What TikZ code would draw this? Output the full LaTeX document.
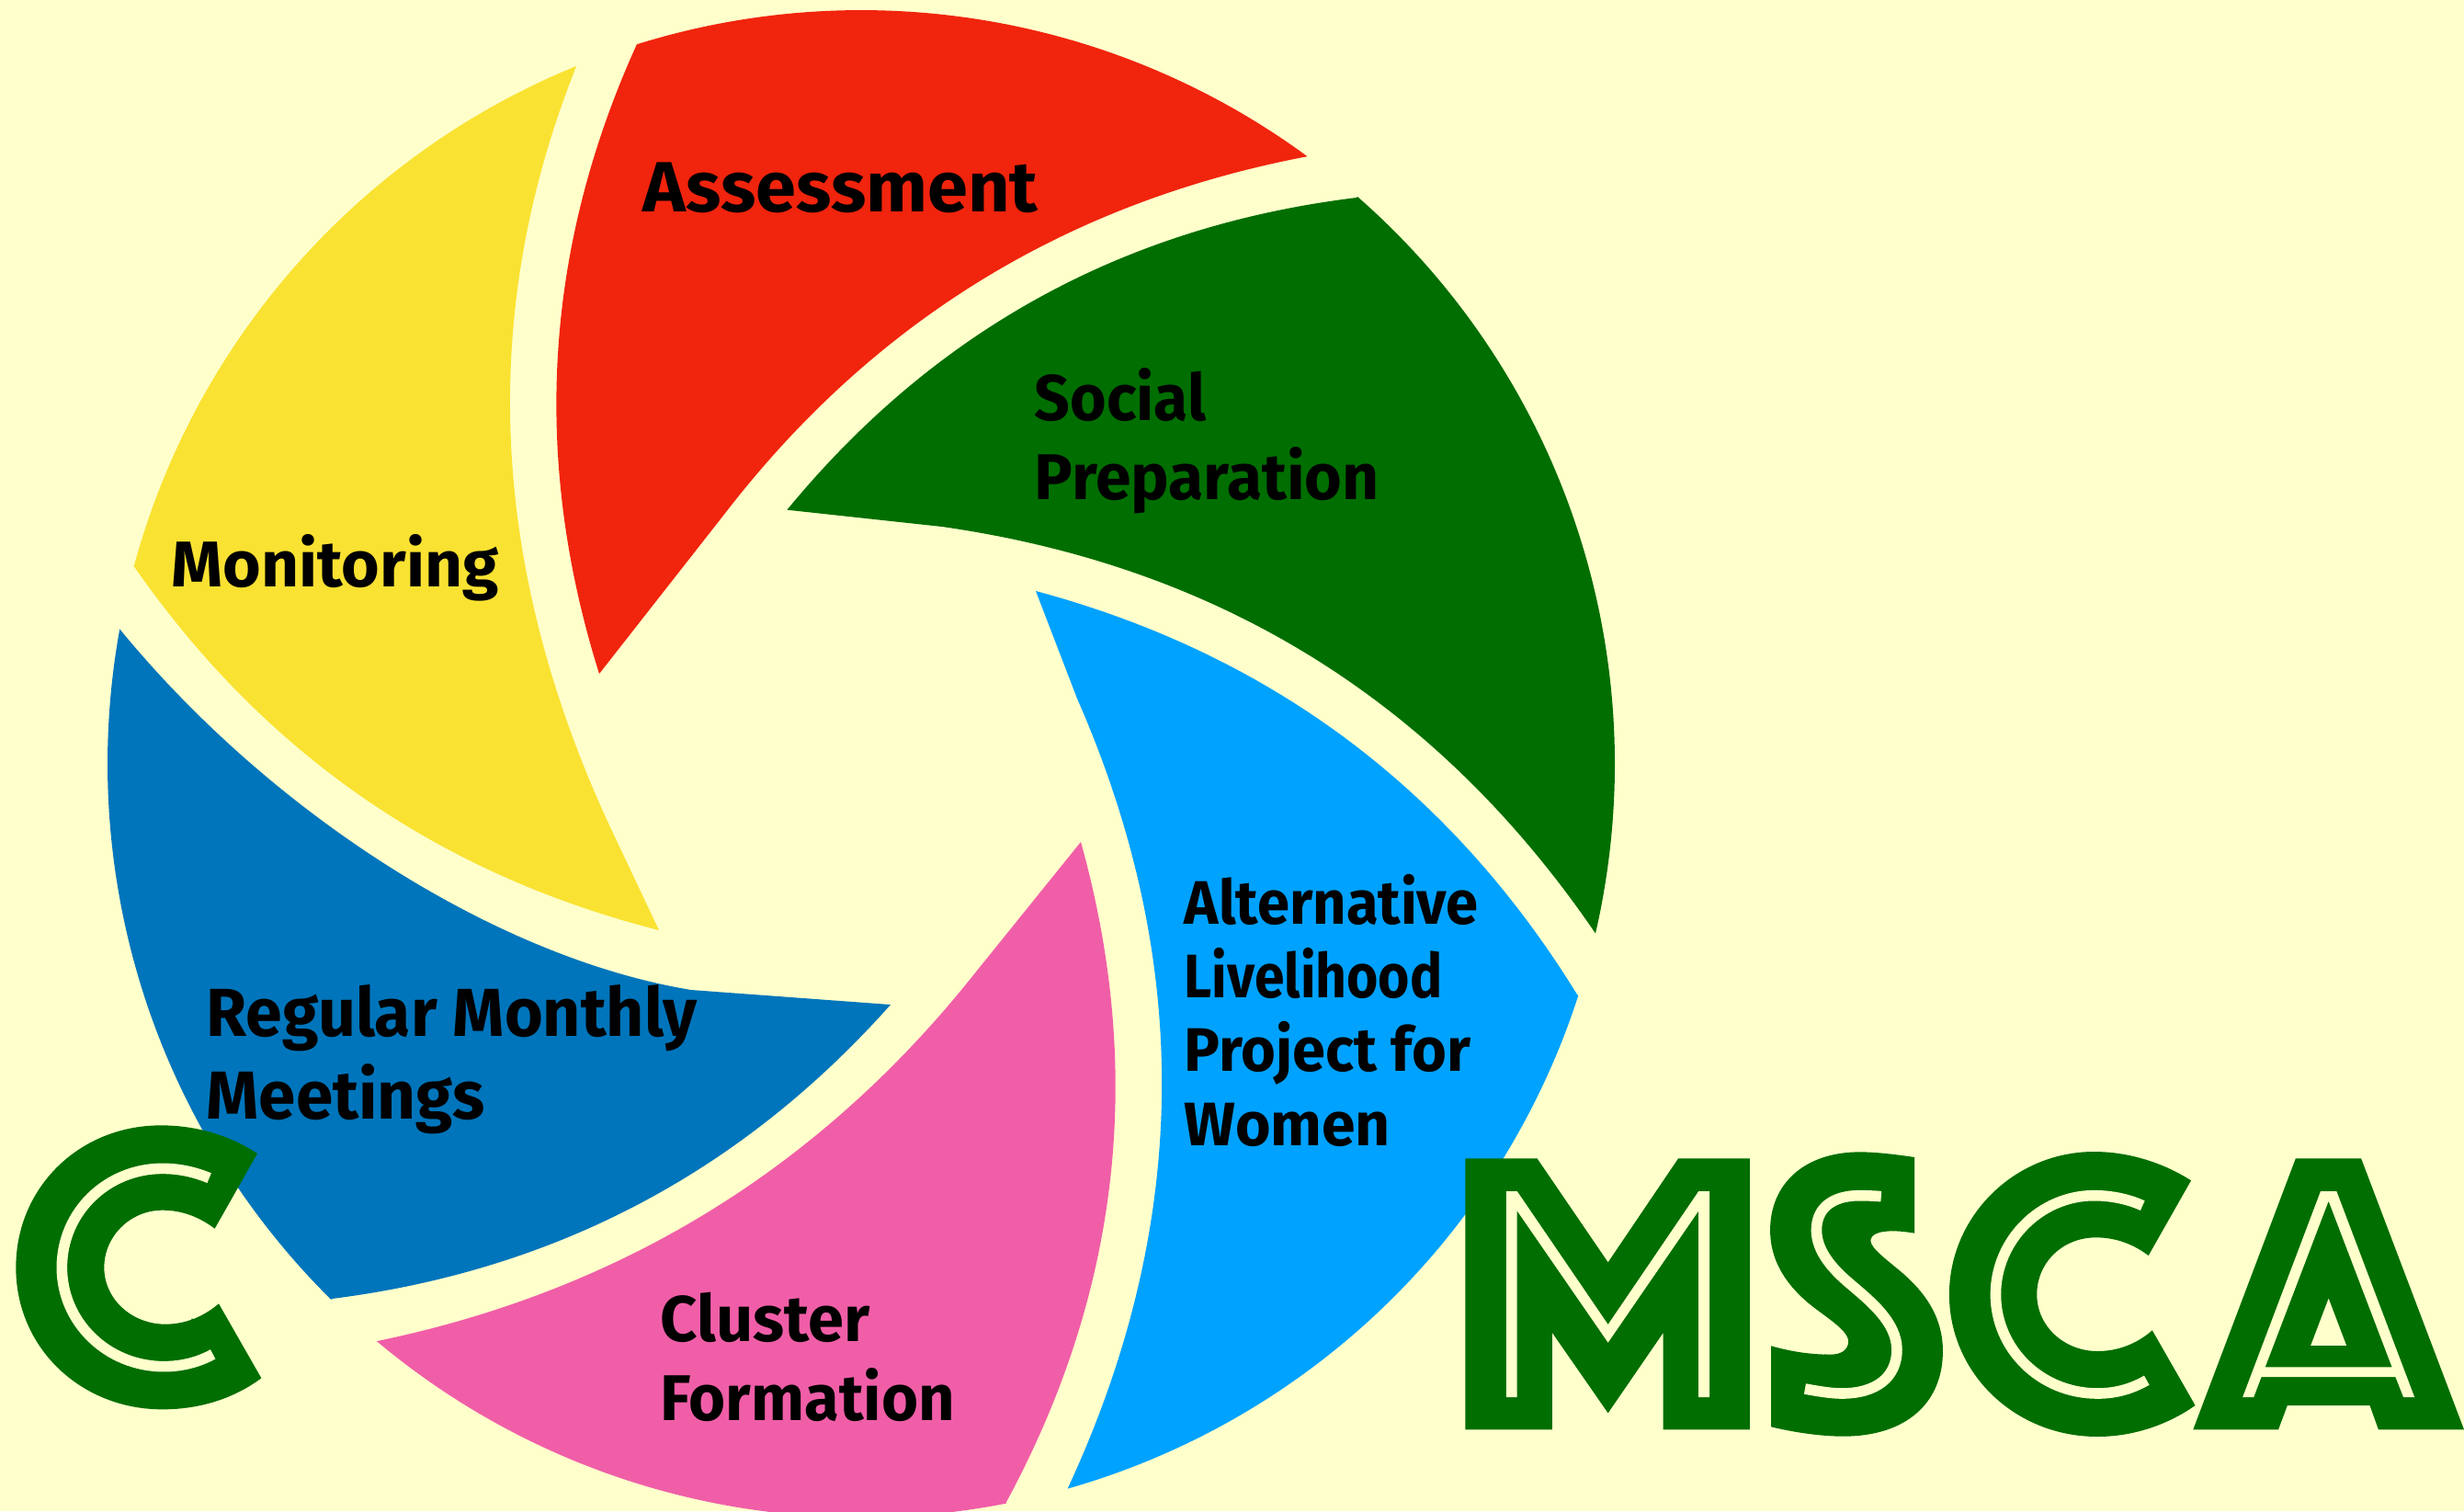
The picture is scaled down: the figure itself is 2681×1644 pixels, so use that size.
\documentclass[tikz,border=0pt]{standalone}
\usepackage{fontspec}
\usepackage{graphicx}
\setmainfont{Fira Sans}
\newfontfamily\bigf{Liberation Sans}
\newlength\pvw \setlength\pvw{0.017098cm}
\newlength\pxw \setlength\pxw{0.01cm}
\newcommand\fl[2]{\resizebox{#1\pvw}{\height}{#2}}
\newcommand\gl[5]{\makebox[#1\pxw]{\raisebox{#4\pxw}{\resizebox{#2\pxw}{#3\pxw}{#5}}}}
\definecolor{bgc}{HTML}{FFFFCC}
\definecolor{rd}{HTML}{F1240D}
\definecolor{gr}{HTML}{006E00}
\definecolor{lb}{HTML}{00A2FF}
\definecolor{pk}{HTML}{F05EA8}
\definecolor{db}{HTML}{0075BB}
\definecolor{yl}{HTML}{FAE232}
\tikzset{
  lbl/.style={anchor=base west,inner sep=0pt,align=left,text=black,font=\bfseries},
  biglet/.style={inner sep=0pt,text=gr,font=\bigf},
  inl/.style={draw=bgc,line width=0.116cm,line cap=butt},
  M2/.style={shift={(1570,1230)},xscale=0.35714,yscale=0.33333},
  C3/.style={shift={(2090,1230)},xscale=0.37692,yscale=0.33333},
  C1/.style={shift={(0,1180)},scale=0.33333},
  cen/.style={shift={(937,831)}}
}
\begin{document}
\begin{tikzpicture}[x=0.01cm,y=-0.01cm]
\useasboundingbox (0,0) rectangle (2681,1644);
\fill[bgc] (0,0) rectangle (2681,1644);
\fill[rd] ([cen]-107.3:820) arc[start angle=-107.3,end angle=-53.7,radius=820]
  .. controls (1162,219.7) and (951.5,348.3) .. (790,557)
  -- (652,733)
  .. controls (578.3,498.7) and (592,270.3) .. (693,48) -- cycle;
\fill[gr] ([cen]-48.8:820) arc[start angle=-48.8,end angle=13,radius=820]
  .. controls (1563.7,763) and (1327.3,616.3) .. (1025,573)
  -- (856.4,554.7)
  .. controls (1017.3,359) and (1223.9,245.8) .. (1476,215) -- cycle;
\fill[lb] ([cen]17.9:820) arc[start angle=17.9,end angle=74.1,radius=820]
  .. controls (1294.7,1333.3) and (1298.3,1047.3) .. (1172,760)
  -- (1127,643)
  .. controls (1381.3,711.3) and (1577.7,857.7) .. (1716,1082) -- cycle;
\fill[pk] ([cen]78.9:820) arc[start angle=78.9,end angle=130,radius=820]
  .. controls (676.3,1404) and (894,1270) .. (1063,1056)
  -- (1176,916)
  .. controls (1245.7,1166) and (1218.7,1405.3) .. (1095,1634) -- cycle;
\fill[db] ([cen]134.7:820) arc[start angle=134.7,end angle=190.3,radius=820]
  .. controls (294.7,885) and (540,1042) .. (752,1077)
  -- (969,1093)
  .. controls (806.3,1275.7) and (603.7,1382.3) .. (361,1413) -- cycle;
\fill[yl] ([cen]195.2:820) arc[start angle=195.2,end angle=247.8,radius=820]
  .. controls (520,340) and (532,616) .. (664,900)
  -- (717,1012)
  .. controls (477,951) and (286.3,818.7) .. (145,615) -- cycle;
\node[lbl,font=\bfseries\fontsize{22}{26}\selectfont] (assess) at (699,230) {\fl{251}{Assessment}};
\node[lbl,font=\bfseries\fontsize{20}{24.2}\selectfont] (social) at (1125,543) {\fl{109}{Social}\\\fl{219}{Preparation}};
\node[lbl,font=\bfseries\fontsize{20}{24}\selectfont] (monit) at (186,638) {\fl{208}{Monitoring}};
\node[lbl,font=\bfseries\fontsize{19}{22.76}\selectfont] (alt) at (1288,1246) {\fl{187}{Alternative}\\\fl{164}{Livelihood}\\\fl{182}{Project for}\\\fl{131}{Women}};
\node[lbl,font=\bfseries\fontsize{21}{25.6}\selectfont] (reg) at (224,1217) {\fl{312}{Regular Monthly}\\\fl{177}{Meetings}};
\node[lbl,font=\bfseries\fontsize{20}{24.2}\selectfont] (clu) at (718,1545) {\fl{133}{Cluster}\\\fl{187}{Formation}};
% left letter C
\begin{scope}[C1]
\fill[gr] (840,225) .. controls (750,165) and (640,133) .. (525,133)
  .. controls (260,133) and (52,335) .. (52,597)
  .. controls (52,860) and (265,1060) .. (530,1060)
  .. controls (660,1060) and (770,1020) .. (853,958)
  -- (714,715) .. controls (665,757) and (605,782) .. (540,782)
  .. controls (430,782) and (340,700) .. (340,597)
  .. controls (340,495) and (425,410) .. (530,410)
  .. controls (595,410) and (650,432) .. (701,470) -- cycle;
\end{scope}
\node[biglet] (lc) at (146,1380) {\resizebox{185\pxw}{285\pxw}{C}};
\begin{scope}[C1]
\draw[inl] (683,305) .. controls (635,285) and (585,274) .. (530,274)
  .. controls (350,274) and (202,415) .. (202,597)
  .. controls (202,775) and (350,920) .. (535,920)
  .. controls (595,920) and (650,905) .. (695,880);
\end{scope}
% MSCA silhouettes
\begin{scope}[M2]
\fill[gr] (68,91) -- (287,91) -- (503,430) -- (717,91) -- (935,91) -- (935,976) -- (671,976) -- (671,660) -- (503,922) -- (333,660) -- (333,976) -- (68,976) -- cycle;
\fill[gr] (1437,87) .. controls (1380,78) and (1320,70) .. (1270,70)
  .. controls (1100,70) and (997,175) .. (997,325)
  .. controls (997,420) and (1040,495) .. (1110,560)
  .. controls (1160,605) and (1235,650) .. (1235,688)
  .. controls (1235,715) and (1215,731) .. (1180,731)
  .. controls (1110,731) and (1050,718) .. (1000,703)
  -- (1000,967) .. controls (1070,985) and (1150,998) .. (1220,998)
  .. controls (1410,998) and (1523,890) .. (1523,720)
  .. controls (1523,610) and (1470,530) .. (1400,465)
  .. controls (1360,428) and (1303,385) .. (1303,360)
  .. controls (1303,338) and (1330,328) .. (1370,328)
  .. controls (1395,328) and (1420,332) .. (1437,335) -- cycle;
\end{scope}
\begin{scope}[C3]
\fill[gr] (780,163) .. controls (700,105) and (600,69) .. (500,69)
  .. controls (270,69) and (82,280) .. (82,535)
  .. controls (82,790) and (270,999) .. (510,999)
  .. controls (620,999) and (720,955) .. (792,897)
  -- (668,652) .. controls (625,695) and (570,720) .. (510,720)
  .. controls (415,720) and (335,640) .. (335,535)
  .. controls (335,430) and (410,349) .. (505,349)
  .. controls (565,349) and (615,372) .. (657,408) -- cycle;
\fill[gr,even odd rule] (1082,91) -- (1271,91) -- (1568,976) -- (1321,976) -- (1296,897) -- (1058,897) -- (1032,976) -- (786,976) -- cycle
  (1177,547) -- (1229,702) -- (1125,702) -- cycle;
\end{scope}
\node[biglet,anchor=base west] (msca) at (1594,1500) {\gl{310}{230}{180}{0}{M}\gl{232}{115}{285}{-48}{S}\gl{252}{190}{260}{-38}{C}\gl{292}{172}{200}{-50}{A}};
\begin{scope}[M2]
\fill[bgc] (193,198) -- (226,198) -- (503,633) -- (779,198) -- (812,198) -- (812,870) -- (779,870) -- (779,262) -- (503,692) -- (226,262) -- (226,870) -- (193,870) -- cycle;
\draw[inl] (1335,215) .. controls (1310,213) and (1290,212) .. (1270,212)
  .. controls (1190,212) and (1138,250) .. (1138,325)
  .. controls (1138,395) and (1190,455) .. (1240,500)
  .. controls (1300,555) and (1383,625) .. (1383,715)
  .. controls (1383,805) and (1320,858) .. (1215,858)
  .. controls (1180,858) and (1140,850) .. (1103,843);
\end{scope}
\begin{scope}[C3]
\draw[inl] (640,245) .. controls (600,224) and (550,212) .. (500,212)
  .. controls (345,212) and (216,358) .. (216,535)
  .. controls (216,712) and (345,858) .. (510,858)
  .. controls (565,858) and (610,842) .. (652,815);
\fill[bgc,even odd rule] (1154,198) -- (1200,198) -- (1425,870) -- (1393,870) -- (1370,804) -- (983,804) -- (961,870) -- (929,870) -- cycle
  (1177,230) -- (1360,772) -- (994,772) -- cycle;
\end{scope}
\end{tikzpicture}
\end{document}
